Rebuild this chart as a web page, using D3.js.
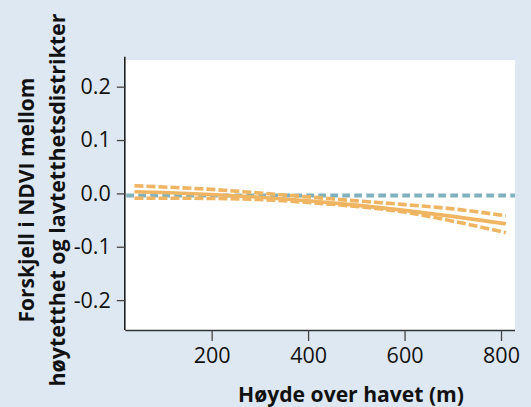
<!DOCTYPE html>
<html><head><meta charset="utf-8">
<script src="https://cdn.jsdelivr.net/npm/d3@7"></script>
<style>
html,body{margin:0;padding:0;background:#dee8f2;}
svg{display:block;font-family:"Open Sans",sans-serif;}
</style></head>
<body><svg id="c" width="531" height="407"></svg>
<script>
// Data
const elevation = [40, 100, 200, 300, 400, 500, 600, 700, 810];
const estimate  = [0.003, 0.0016, -0.002, -0.0071, -0.0138, -0.022, -0.0318, -0.0431, -0.057];
const upperCI   = [0.0144, 0.012, 0.0075, 0.0007, -0.0065, -0.014, -0.021, -0.029, -0.042];
const lowerCI   = [-0.009, -0.009, -0.0095, -0.0115, -0.017, -0.0245, -0.035, -0.052, -0.0736];
const referenceValue = -0.004;
const xTicks = [200, 400, 600, 800];
const yTicks = [-0.2, -0.1, 0.0, 0.1, 0.2];
const yTickLabels = ["-0.2", "-0.1", "0.0", "0.1", "0.2"];
const xTitle = "Høyde over havet (m)";
const yTitleLines = ["Forskjell i NDVI mellom", "høytetthet og lavtetthetsdistrikter"];

(function () {
const svg = d3.select("#c");
const W = 531, H = 407;
svg.append("rect").attr("width", W).attr("height", H).attr("fill", "#dee8f2");

const pL = 125.3, pR = 515, pT = 60, pB = 330;
const x = d3.scaleLinear().domain([21, 829]).range([pL, pR]);
const y = d3.scaleLinear().domain([-0.256, 0.25]).range([pB, pT]);

svg.append("rect").attr("x", pL).attr("y", pT)
  .attr("width", pR - pL).attr("height", pB - pT).attr("fill", "#ffffff");

// reference line
svg.append("line")
  .attr("x1", pL + 1).attr("x2", pR)
  .attr("y1", y(referenceValue)).attr("y2", y(referenceValue))
  .attr("stroke", "#7fb2bd").attr("stroke-width", 4)
  .attr("stroke-dasharray", "7.7,4.3");

const orange = "#efb563";
const line = d3.line().x((d, i) => x(elevation[i])).y(d => y(d)).curve(d3.curveMonotoneX);
const series = [
  {v: upperCI, dash: "9,3"},
  {v: lowerCI, dash: "9,3"},
  {v: estimate, dash: null}
];
series.forEach(s => {
  svg.append("path").datum(s.v).attr("d", line)
    .attr("fill", "none").attr("stroke", orange).attr("stroke-width", 3.6)
    .attr("stroke-dasharray", s.dash);
});

// axes
const xAxis = d3.axisBottom(x).tickValues(xTicks).tickSize(11).tickPadding(7)
  .tickFormat(d3.format("d"));
const gx = svg.append("g").attr("transform", `translate(0,${pB})`).call(xAxis);
gx.select(".domain").attr("d", `M${pL},0.5H${pR}`).attr("stroke", "#333").attr("stroke-width", 1.6);
gx.selectAll(".tick line").attr("stroke", "#444").attr("stroke-width", 1.3);
gx.selectAll(".tick text").attr("font-size", 21.5).attr("fill", "#111")
  .attr("font-family", "'Open Sans',sans-serif");

const yAxis = d3.axisLeft(y).tickValues(yTicks).tickSize(8.5).tickPadding(6)
  .tickFormat((d, i) => yTickLabels[yTicks.indexOf(d)]);
const gy = svg.append("g").attr("transform", `translate(${pL},0)`).call(yAxis);
gy.select(".domain").attr("d", `M-0.5,56.7V${pB}`).attr("stroke", "#222").attr("stroke-width", 1.6);
gy.selectAll(".tick line").attr("stroke", "#444").attr("stroke-width", 1.3);
gy.selectAll(".tick text").attr("font-size", 21.5).attr("fill", "#111")
  .attr("font-family", "'Open Sans',sans-serif");

// titles
svg.append("text").attr("x", 351).attr("y", 402).attr("text-anchor", "middle")
  .attr("font-weight", "bold").attr("font-size", 20.5).attr("fill", "#111")
  .attr("textLength", 226).attr("lengthAdjust", "spacingAndGlyphs")
  .text(xTitle);

const lens = [245, 373];
const bases = [34, 65];
yTitleLines.forEach((t, i) => {
  svg.append("text")
    .attr("transform", `translate(${bases[i]},200) rotate(-90)`)
    .attr("text-anchor", "middle")
    .attr("font-weight", "bold").attr("font-size", 22).attr("fill", "#111")
    .attr("textLength", lens[i]).attr("lengthAdjust", "spacingAndGlyphs")
    .text(t);
});
})();
</script></body></html>
